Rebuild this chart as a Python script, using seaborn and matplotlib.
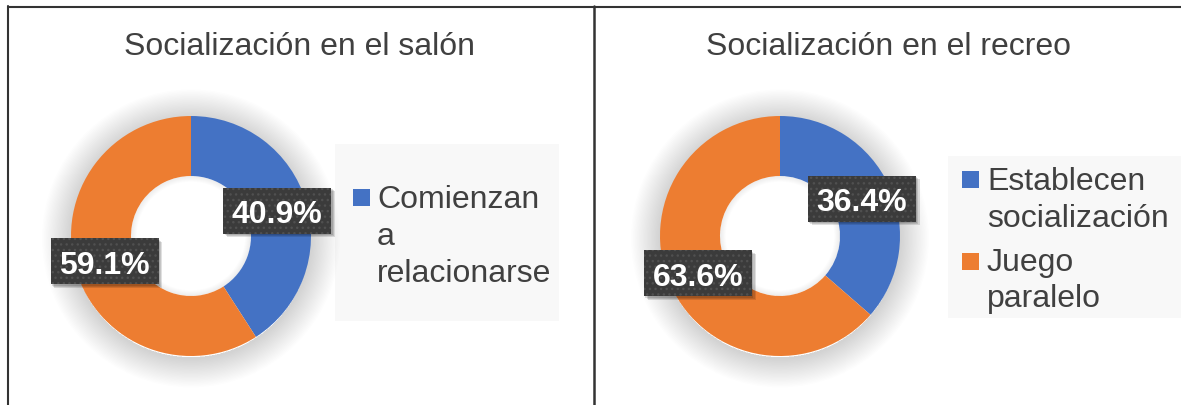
import matplotlib
matplotlib.use("Agg")
import matplotlib.pyplot as plt
from matplotlib.patches import Rectangle, Wedge
import seaborn as sns

# ---------------- data ----------------
titles = ["Socialización en el salón", "Socialización en el recreo"]
salon_categories = ["Comienzan a relacionarse", "Otros"]
salon_values = [40.9, 59.1]
recreo_categories = ["Establecen socialización", "Juego paralelo"]
recreo_values = [36.4, 63.6]
# legend entries as drawn (wrapped lines); left chart shows only first entry
salon_legend = [["Comienzan", "a", "relacionarse"]]
recreo_legend = [["Establecen", "socialización"], ["Juego", "paralelo"]]

sns.set_theme(style="white")
plt.rcParams['font.family'] = ['Liberation Sans', 'DejaVu Sans']
palette = sns.color_palette(["#4472C4", "#ED7D31"])
TEXT = "#404040"

W, H = 1181, 406
fig = plt.figure(figsize=(W / 100, H / 100), dpi=100)
fig.patch.set_facecolor("white")
base = fig.add_axes([0, 0, 1, 1])
base.set_xlim(0, W)
base.set_ylim(H, 0)
base.axis("off")

# panel borders
bc = "#333333"
base.plot([7, W], [7.5, 7.5], color=bc, lw=1.5, solid_capstyle="butt")
base.plot([7.5, 7.5], [7, H], color=bc, lw=1.5)
base.plot([594, 594], [7, H], color=bc, lw=1.8)

# titles
base.text(300, 47, titles[0], ha="center", va="center", fontsize=23, color=TEXT)
base.text(888, 47, titles[1], ha="center", va="center", fontsize=23, color=TEXT)

R = 120.0  # donut outer radius in pixels
BOX_W, BOX_H = 108 / R, 46 / R
SH = 2.5 / R


def donut(cx, cy, values):
    ax = fig.add_axes([(cx - R) / W, (H - cy - R) / H, 2 * R / W, 2 * R / H])
    # soft shadow around the ring
    n = 22
    for k in range(n):
        ro = 1.0 + 0.011 * (k + 1)
        ax.add_patch(Wedge((0, -0.02), ro, 0, 360, width=ro - 0.99,
                           fc="black", ec="none", alpha=0.0065, zorder=0,
                           clip_on=False))
    for k in range(6):
        ri = 0.5 - 0.008 * (k + 1)
        ax.add_patch(Wedge((0, 0), 0.5, 0, 360, width=0.5 - ri,
                           fc="black", ec="none", alpha=0.01, zorder=0.5,
                           clip_on=False))
    wedges, _, autotexts = ax.pie(
        values, colors=palette, startangle=90, counterclock=False,
        wedgeprops=dict(width=0.5, edgecolor="none"),
        autopct=lambda p: f"{p:.1f}%", pctdistance=0.75,
        textprops=dict(color="white", fontsize=23, fontweight="bold"))
    for w in wedges:
        w.set_zorder(1)
    for t in autotexts:
        x, y = t.get_position()
        t.set_zorder(5)
        t.set_va("center_baseline")
        t.set_clip_on(False)
        # soft drop shadow
        for k, a in enumerate([0.12, 0.12, 0.12]):
            o = SH * (k + 1) / 2
            ax.add_patch(Rectangle((x - BOX_W / 2 + o, y - BOX_H / 2 - o),
                                   BOX_W, BOX_H, fc="black", ec="none",
                                   alpha=a, zorder=3, clip_on=False))
        # dotted dark box
        ax.add_patch(Rectangle((x - BOX_W / 2, y - BOX_H / 2), BOX_W, BOX_H,
                               fc="#3b3b3b", ec="#505050", lw=0,
                               hatch="...", zorder=4, clip_on=False))
    ax.set_xlim(-1, 1)
    ax.set_ylim(-1, 1)
    ax.set_aspect("equal")
    ax.axis("off")
    return ax


donut(191, 237, salon_values)
donut(780, 237, recreo_values)

# legends (manual)
LEG_BG = "#f8f8f8"
base.add_patch(Rectangle((335, 145), 224, 177, fc=LEG_BG, ec="none", zorder=1))
base.add_patch(Rectangle((948, 157), 233, 162, fc=LEG_BG, ec="none", zorder=1))


def legend_entries(entries, x_marker, x_text, marker_tops, baselines):
    for i, lines in enumerate(entries):
        base.add_patch(Rectangle((x_marker, marker_tops[i]), 17, 17,
                                 fc=palette[i], ec="none", zorder=2))
        for line, yb in zip(lines, baselines[i]):
            base.text(x_text, yb, line, ha="left", va="baseline",
                      fontsize=23, color=TEXT, zorder=3)


legend_entries(salon_legend, 353, 377, [190], [[208, 245, 282]])
legend_entries(recreo_legend, 962, 987, [172, 254], [[190, 227], [271, 307]])

fig.savefig("out.png", dpi=100, facecolor="white")
